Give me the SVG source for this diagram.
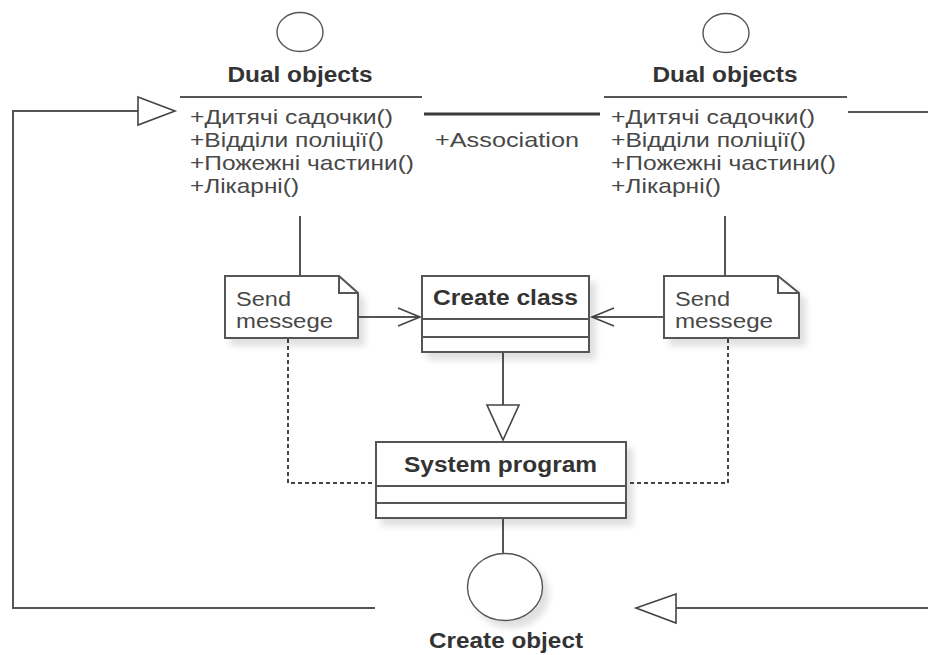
<svg xmlns="http://www.w3.org/2000/svg" width="928" height="655" viewBox="0 0 928 655">
  <style>
    .bg { fill: #ffffff; }
    .box { fill: #ffffff; stroke: #555555; stroke-width: 2; }
    .sep { stroke: #555555; stroke-width: 2; fill: none; }
    .ball { fill: #ffffff; stroke: #555555; stroke-width: 1.4; }
    .line { stroke: #555555; stroke-width: 2; fill: none; }
    .assoc { stroke: #3a3a3a; stroke-width: 3; fill: none; }
    .dash { stroke: #444444; stroke-width: 2; fill: none; stroke-dasharray: 4 3; }
    .head { fill: #ffffff; stroke: #444444; stroke-width: 1.6; }
    .open { fill: none; stroke: #444444; stroke-width: 1.6; }
    .title { font-family: "Liberation Sans", Arial, sans-serif; font-weight: bold; font-size: 22px; fill: #333333; text-anchor: middle; }
    .op { font-family: "Liberation Sans", Arial, sans-serif; font-size: 21px; fill: #484848; }
  </style>
  <defs>
    <filter id="shadow" x="-10%" y="-10%" width="130%" height="140%">
      <feDropShadow dx="6" dy="7" stdDeviation="3" flood-color="#000000" flood-opacity="0.12"/>
    </filter>
  </defs>

  <rect class="bg" x="0" y="0" width="928" height="655"/>

  <!-- connectors -->
  <g id="connectors">
    <!-- generalization loop on the left into the first Dual objects -->
    <path class="line" d="M375,608 H13 V111 H138"/>
    <polygon class="head" points="138,97 175,111 138,125"/>
    <!-- association between the two Dual objects -->
    <line class="assoc" x1="424" y1="114" x2="600" y2="114"/>
    <!-- right class outgoing line -->
    <line class="line" x1="848" y1="112" x2="928" y2="112"/>
    <!-- bottom right generalization toward Create object -->
    <line class="line" x1="676" y1="608" x2="928" y2="608"/>
    <polygon class="head" points="676,594 636,608 676,623"/>
    <!-- classes to notes -->
    <line class="line" x1="300" y1="216" x2="300" y2="276"/>
    <line class="line" x1="725" y1="216" x2="725" y2="276"/>
    <!-- notes to Create class -->
    <line class="line" x1="358" y1="317" x2="420" y2="317"/>
    <polyline class="open" points="398,308 420,317 398,326"/>
    <line class="line" x1="664" y1="317" x2="592" y2="317"/>
    <polyline class="open" points="614,308 592,317 614,326"/>
    <!-- Create class generalizes System program -->
    <line class="line" x1="503" y1="352" x2="503" y2="405"/>
    <polygon class="head" points="487,405 519,405 503,440"/>
    <!-- dotted note anchors -->
    <path class="dash" d="M288,339 V483 H376"/>
    <path class="dash" d="M728,339 V483 H626"/>
    <!-- System program to Create object -->
    <line class="line" x1="503" y1="518" x2="503" y2="553"/>
  </g>

  <!-- left Dual objects -->
  <g id="dual-objects-left">
    <ellipse class="ball" cx="300" cy="32" rx="23" ry="19.5"/>
    <text class="title" x="300" y="82" textLength="145" lengthAdjust="spacingAndGlyphs">Dual objects</text>
    <line class="sep" x1="180" y1="97" x2="422" y2="97"/>
    <text class="op" x="190" y="124" textLength="203" lengthAdjust="spacingAndGlyphs">+Дитячі садочки()</text>
    <text class="op" x="190" y="147" textLength="194" lengthAdjust="spacingAndGlyphs">+Відділи поліції()</text>
    <text class="op" x="190" y="170" textLength="224" lengthAdjust="spacingAndGlyphs">+Пожежні частини()</text>
    <text class="op" x="190" y="193" textLength="109" lengthAdjust="spacingAndGlyphs">+Лікарні()</text>
  </g>

  <!-- association label -->
  <g id="association-label">
    <text class="op" x="435" y="147" textLength="144" lengthAdjust="spacingAndGlyphs">+Association</text>
  </g>

  <!-- right Dual objects -->
  <g id="dual-objects-right">
    <ellipse class="ball" cx="726" cy="33" rx="23" ry="19.5"/>
    <text class="title" x="725" y="82" textLength="145" lengthAdjust="spacingAndGlyphs">Dual objects</text>
    <line class="sep" x1="604" y1="97" x2="847" y2="97"/>
    <text class="op" x="611" y="124" textLength="204" lengthAdjust="spacingAndGlyphs">+Дитячі садочки()</text>
    <text class="op" x="611" y="147" textLength="195" lengthAdjust="spacingAndGlyphs">+Відділи поліції()</text>
    <text class="op" x="611" y="170" textLength="225" lengthAdjust="spacingAndGlyphs">+Пожежні частини()</text>
    <text class="op" x="611" y="193" textLength="110" lengthAdjust="spacingAndGlyphs">+Лікарні()</text>
  </g>

  <!-- left note -->
  <g id="note-left">
    <path class="box" filter="url(#shadow)" d="M225,276 H339 L358,293 V338 H225 Z"/>
    <path class="sep" d="M339,276 V293 H358"/>
    <text class="op" x="236" y="306" textLength="55" lengthAdjust="spacingAndGlyphs">Send</text>
    <text class="op" x="236" y="328" textLength="97" lengthAdjust="spacingAndGlyphs">messege</text>
  </g>

  <!-- right note -->
  <g id="note-right">
    <path class="box" filter="url(#shadow)" d="M664,276 H778 L799,293 V338 H664 Z"/>
    <path class="sep" d="M778,276 V293 H799"/>
    <text class="op" x="675" y="306" textLength="55" lengthAdjust="spacingAndGlyphs">Send</text>
    <text class="op" x="675" y="328" textLength="98" lengthAdjust="spacingAndGlyphs">messege</text>
  </g>

  <!-- Create class -->
  <g id="create-class">
    <rect class="box" filter="url(#shadow)" x="422" y="276" width="167" height="76"/>
    <line class="sep" x1="422" y1="319" x2="589" y2="319"/>
    <line class="sep" x1="422" y1="337" x2="589" y2="337"/>
    <text class="title" x="505.5" y="305" textLength="145" lengthAdjust="spacingAndGlyphs">Create class</text>
  </g>

  <!-- System program -->
  <g id="system-program">
    <rect class="box" filter="url(#shadow)" x="376" y="442" width="250" height="76"/>
    <line class="sep" x1="376" y1="486" x2="626" y2="486"/>
    <line class="sep" x1="376" y1="503" x2="626" y2="503"/>
    <text class="title" x="500.5" y="472" textLength="193" lengthAdjust="spacingAndGlyphs">System program</text>
  </g>

  <!-- Create object -->
  <g id="create-object">
    <ellipse class="ball" filter="url(#shadow)" cx="505" cy="587" rx="37.5" ry="33.5"/>
    <text class="title" x="506" y="648" textLength="154" lengthAdjust="spacingAndGlyphs">Create object</text>
  </g>
</svg>
